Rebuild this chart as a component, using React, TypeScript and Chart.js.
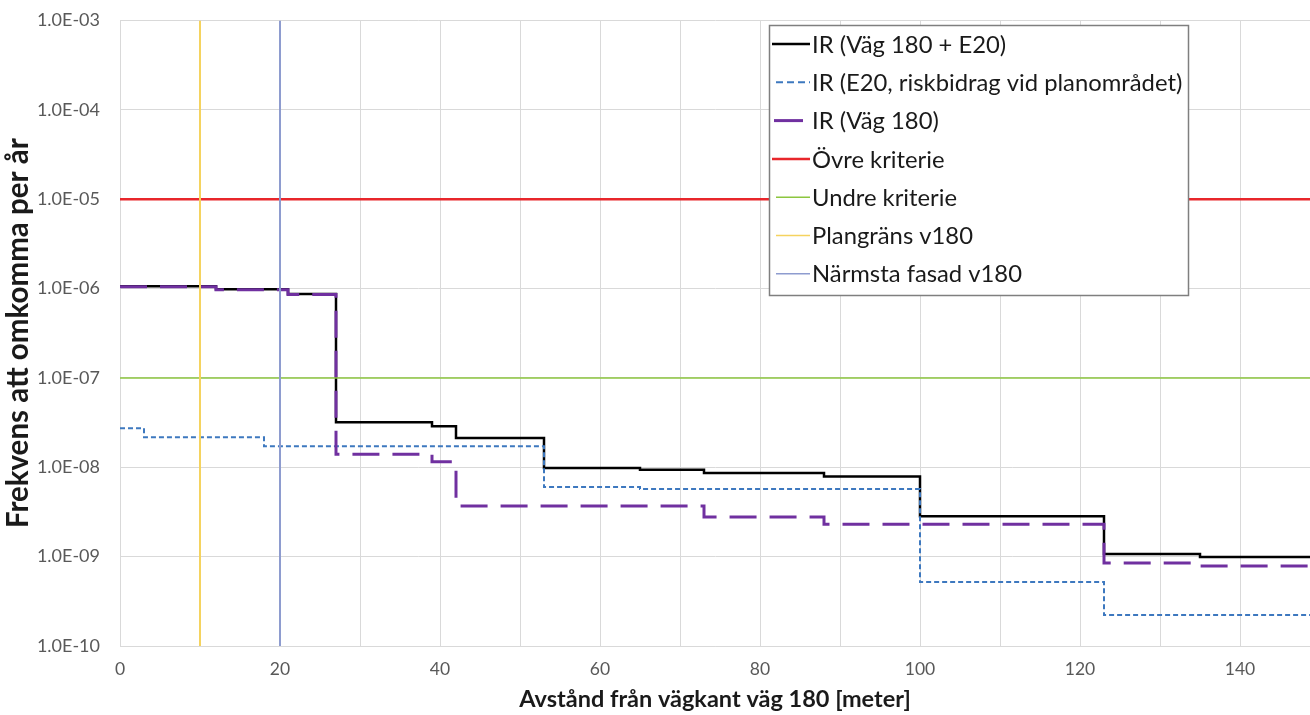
import React, { useEffect, useRef } from "react";
import { Chart, registerables } from "chart.js";

Chart.register(...registerables);

const FONT = "Lato, 'Open Sans', sans-serif";

// Axis ranges and ticks
const xMin = 0;
const xMax = 148.75;
const xStep = 10;
const yTickValues = [1e-10, 1e-9, 1e-8, 1e-7, 1e-6, 1e-5, 1e-4, 1e-3];

// Titles
const xTitle = "Avstånd från vägkant väg 180 [meter]";
const yTitle = "Frekvens att omkomma per år";

// Series labels
const seriesLabels = [
  "IR (Väg 180 + E20)",
  "IR (E20, riskbidrag vid planområdet)",
  "IR (Väg 180)",
  "Övre kriterie",
  "Undre kriterie",
  "Plangräns v180",
  "Närmsta fasad v180",
];

// IR (Väg 180 + E20): step starts (m) and values
const totalX = [0, 12, 21, 27, 39, 42, 53, 65, 73, 88, 100, 123, 135, 148.75];
const totalY = [1.06e-6, 0.98e-6, 8.7e-7, 3.2e-8, 2.88e-8, 2.12e-8, 9.8e-9, 9.4e-9, 8.6e-9, 7.9e-9, 2.84e-9, 1.07e-9, 0.99e-9, 0.99e-9];

// IR (E20, riskbidrag vid planområdet)
const e20X = [0, 3, 18, 53, 65, 100, 123, 148.75];
const e20Y = [2.74e-8, 2.17e-8, 1.72e-8, 6.0e-9, 5.7e-9, 5.2e-10, 2.22e-10, 2.22e-10];

// IR (Väg 180)
const v180X = [0, 12, 21, 27, 39, 42, 73, 88, 123, 135, 148.75];
const v180Y = [1.05e-6, 0.97e-6, 8.6e-7, 1.4e-8, 1.15e-8, 3.68e-9, 2.77e-9, 2.31e-9, 8.5e-10, 7.85e-10, 7.85e-10];

// Criteria and reference distances
const upperCriterion = 1e-5;
const lowerCriterion = 1e-7;
const planBoundary = 10;
const nearestFacade = 20;

const toPoints = (xs: number[], ys: number[]) => xs.map((x, i) => ({ x, y: ys[i] }));

const formatExp = (v: number) => {
  const e = Math.round(Math.log10(v));
  return `1.0E${e < 0 ? "-" : "+"}${String(Math.abs(e)).padStart(2, "0")}`;
};

const legendPlugin = {
  id: "boxLegend",
  afterDraw(chart: any) {
    const ctx = chart.ctx as CanvasRenderingContext2D;
    const bx = 769.5, by = 25.5, bw = 419, bh = 270;
    ctx.save();
    ctx.fillStyle = "#ffffff";
    ctx.fillRect(bx, by, bw, bh);
    ctx.strokeStyle = "#7f7f7f";
    ctx.lineWidth = 1.5;
    ctx.setLineDash([]);
    ctx.strokeRect(bx, by, bw, bh);
    ctx.font = `23.8px ${FONT}`;
    ctx.textBaseline = "middle";
    ctx.textAlign = "left";
    chart.data.datasets.forEach((ds: any, i: number) => {
      const cy = 44 + i * 38.3;
      const lg = ds.legendSample;
      ctx.beginPath();
      ctx.strokeStyle = ds.borderColor;
      ctx.lineWidth = lg.width;
      ctx.setLineDash(lg.dash);
      ctx.moveTo(lg.x0, cy);
      ctx.lineTo(lg.x1, cy);
      ctx.stroke();
      ctx.setLineDash([]);
      ctx.fillStyle = "#1a1a1a";
      ctx.fillText(ds.label, 812, cy + 1);
    });
    ctx.restore();
  },
};

export default function App() {
  const ref = useRef<HTMLCanvasElement | null>(null);

  useEffect(() => {
    document.body.style.margin = "0";
    if (!ref.current) return;
    const stepBase = { stepped: true, pointRadius: 0, fill: false, tension: 0 };
    const chart = new Chart(ref.current, {
      type: "line",
      data: {
        datasets: [
          {
            ...stepBase,
            label: seriesLabels[0],
            data: toPoints(totalX, totalY),
            borderColor: "#000000",
            borderWidth: 2.5,
            order: 7,
            legendSample: { x0: 772, x1: 810, width: 2.5, dash: [] },
          } as any,
          {
            ...stepBase,
            label: seriesLabels[1],
            data: toPoints(e20X, e20Y),
            borderColor: "#3d78bf",
            borderWidth: 2,
            borderDash: [5, 3],
            order: 6,
            legendSample: { x0: 776, x1: 810, width: 2, dash: [7, 4] },
          } as any,
          {
            ...stepBase,
            label: seriesLabels[2],
            data: toPoints(v180X, v180Y),
            borderColor: "#7030a0",
            borderWidth: 3,
            borderDash: [27, 13],
            order: 5,
            legendSample: { x0: 774, x1: 803, width: 3, dash: [] },
          } as any,
          {
            label: seriesLabels[3],
            data: [{ x: xMin, y: upperCriterion }, { x: xMax, y: upperCriterion }],
            borderColor: "#e8262b",
            borderWidth: 2.5,
            pointRadius: 0,
            order: 4,
            legendSample: { x0: 772, x1: 810, width: 2.5, dash: [] },
          } as any,
          {
            label: seriesLabels[4],
            data: [{ x: xMin, y: lowerCriterion }, { x: xMax, y: lowerCriterion }],
            borderColor: "#8cc63f",
            borderWidth: 1.5,
            pointRadius: 0,
            order: 3,
            legendSample: { x0: 776, x1: 810, width: 1.5, dash: [] },
          } as any,
          {
            label: seriesLabels[5],
            data: [{ x: planBoundary, y: yTickValues[0] }, { x: planBoundary, y: yTickValues[yTickValues.length - 1] }],
            borderColor: "#f5d35f",
            borderWidth: 2,
            pointRadius: 0,
            order: 2,
            legendSample: { x0: 776, x1: 810, width: 1.5, dash: [] },
          } as any,
          {
            label: seriesLabels[6],
            data: [{ x: nearestFacade, y: yTickValues[0] }, { x: nearestFacade, y: yTickValues[yTickValues.length - 1] }],
            borderColor: "#8e9ccf",
            borderWidth: 2,
            pointRadius: 0,
            order: 1,
            legendSample: { x0: 776, x1: 810, width: 1.5, dash: [] },
          } as any,
        ],
      },
      options: {
        animation: false,
        responsive: false,
        layout: { padding: { top: 0, right: 0, left: 0, bottom: 0 } },
        plugins: {
          legend: { display: false },
          tooltip: { enabled: false },
        },
        scales: {
          x: {
            type: "linear",
            min: xMin,
            max: xMax,
            grid: { color: "#d9d9d9", lineWidth: 1, drawTicks: false },
            border: { color: "#d9d9d9" },
            ticks: {
              stepSize: xStep,
              includeBounds: false,
              padding: 13,
              color: "#595959",
              font: { family: FONT, size: 17.5 },
              maxRotation: 0,
              autoSkip: false,
              callback: (v: any) => (Number(v) % 20 === 0 ? String(v) : ""),
            },
            title: {
              display: true,
              text: xTitle,
              color: "#1a1a1a",
              font: { family: FONT, size: 23.5, weight: "bold" },
              padding: { top: 0, bottom: 1 },
            },
            afterFit: (s: any) => {
              s.height = 69;
            },
          },
          y: {
            type: "logarithmic",
            min: yTickValues[0],
            max: yTickValues[yTickValues.length - 1],
            grid: { color: "#d9d9d9", lineWidth: 1, drawTicks: false },
            border: { color: "#d9d9d9" },
            afterBuildTicks: (s: any) => {
              s.ticks = yTickValues.map((v) => ({ value: v }));
            },
            ticks: {
              padding: 20,
              color: "#595959",
              font: { family: FONT, size: 18, lineHeight: 0.05 },
              callback: (v: any) => formatExp(Number(v)),
            },
            title: {
              display: true,
              text: yTitle,
              color: "#1a1a1a",
              font: { family: FONT, size: 29.5, weight: "bold" },
              padding: { top: 1, bottom: 0 },
            },
            afterFit: (s: any) => {
              s.width = 120;
            },
          },
        },
      } as any,
      plugins: [legendPlugin],
    });
    return () => chart.destroy();
  }, []);

  return (
    <div style={{ width: 1310, height: 715, overflow: "hidden" }}>
      <canvas ref={ref} width={1310} height={715} style={{ display: "block" }} />
    </div>
  );
}
